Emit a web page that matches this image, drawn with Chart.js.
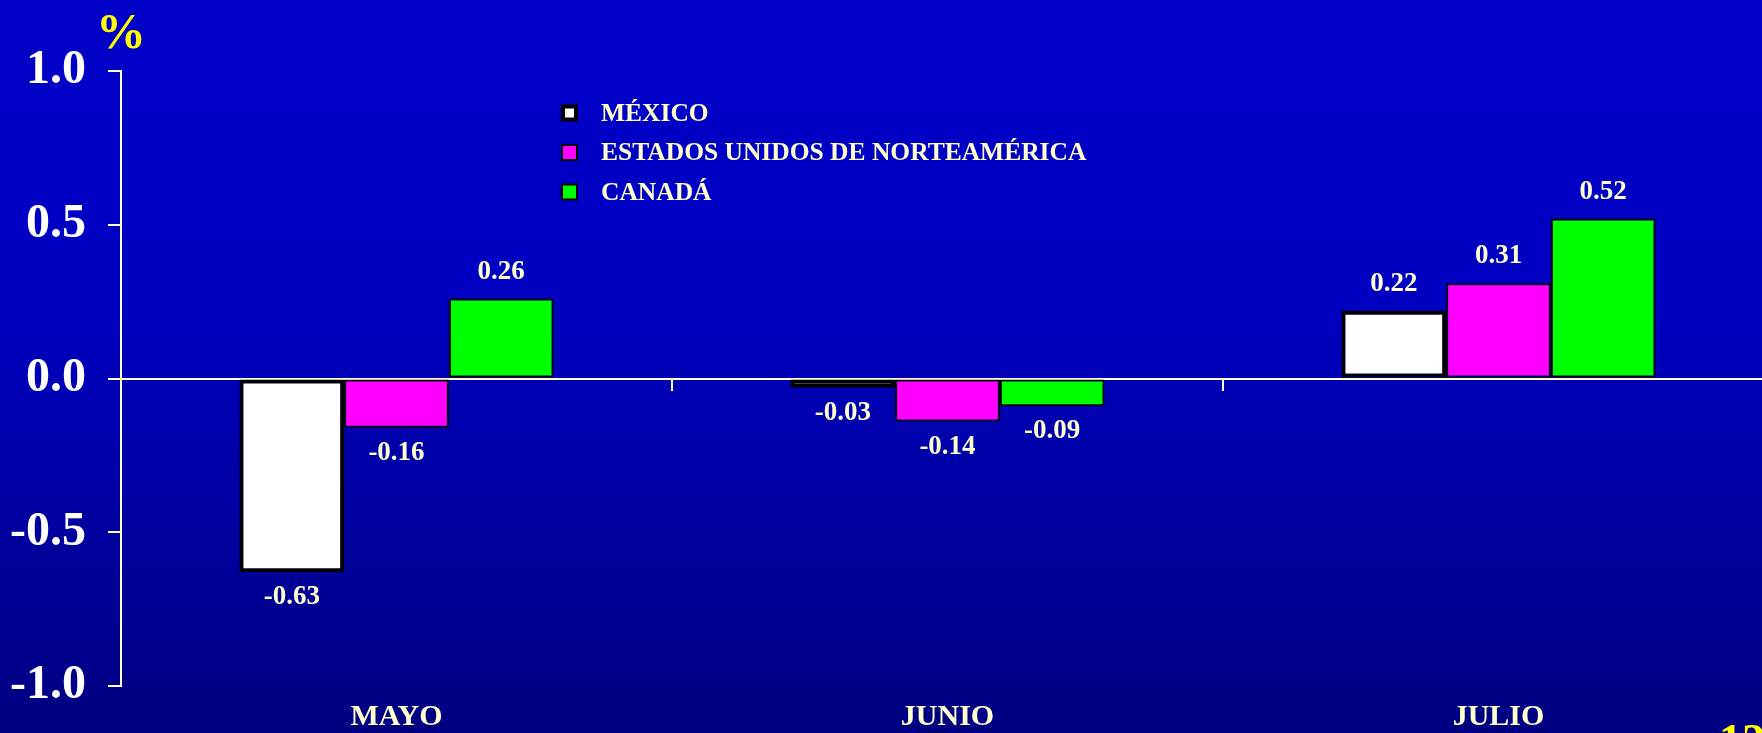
<!DOCTYPE html>
<html lang="es">
<head>
<meta charset="UTF-8">
<title>Variación mensual</title>
<script src="https://cdn.jsdelivr.net/npm/chart.js"></script>
<style>
  html, body { margin: 0; padding: 0; width: 1762px; height: 733px; overflow: hidden; }
  body {
    position: relative;
    background: linear-gradient(to bottom, #0000c8 0%, #0000c2 40%, #000080 100%);
    font-family: "Liberation Serif", "Times New Roman", serif;
  }
  #wrap { position: absolute; left: 0; top: 0; width: 1774px; height: 733px; }
  .yellow { position: absolute; color: #ffff00; font-weight: bold; line-height: 1; }
  #pct { left: 96px; top: 6px; font-size: 50px; }
  #page { left: 1719px; top: 718px; font-size: 46px; }
</style>
</head>
<body>
<div id="wrap"><canvas id="chart" width="1774" height="733"></canvas></div>
<div id="pct" class="yellow">%</div>
<div id="page" class="yellow">12</div>

<script>
// data
const categories = ['MAYO', 'JUNIO', 'JULIO'];
const seriesNames = ['MÉXICO', 'ESTADOS UNIDOS DE NORTEAMÉRICA', 'CANADÁ'];
const mexico = [-0.63, -0.03, 0.22];
const eua = [-0.16, -0.14, 0.31];
const canada = [0.26, -0.09, 0.52];
const yTicks = [-1, -0.5, 0, 0.5, 1];

const CREAM = '#ffffcc';
const FONT = '"Liberation Serif", "Times New Roman", serif';

// value labels above / below each bar
const valueLabels = {
    id: 'valueLabels',
    afterDatasetsDraw(chart) {
        const ctx = chart.ctx;
        ctx.save();
        ctx.font = 'bold 27px ' + FONT;
        ctx.fillStyle = CREAM;
        ctx.textAlign = 'center';
        ctx.textBaseline = 'middle';
        chart.data.datasets.forEach((ds, i) => {
            chart.getDatasetMeta(i).data.forEach((bar, j) => {
                const v = ds.data[j];
                const y = v >= 0 ? bar.y - 27 : bar.y + 25;
                ctx.fillText(v.toFixed(2), bar.x, y);
            });
        });
        ctx.restore();
    }
};

// legend drawn inside the plot, like the original slide
const boxLegend = {
    id: 'boxLegend',
    afterDraw(chart) {
        const ctx = chart.ctx;
        const x = 561, y0 = 113, gap = 39.5, size = 17;
        ctx.save();
        ctx.font = 'bold 25.5px ' + FONT;
        ctx.textBaseline = 'middle';
        ctx.textAlign = 'left';
        chart.data.datasets.forEach((ds, i) => {
            const y = y0 + i * gap;
            const bw = ds.borderWidth;
            ctx.fillStyle = '#000';
            ctx.fillRect(x, y - size / 2, size, size);
            ctx.fillStyle = ds.backgroundColor;
            ctx.fillRect(x + bw, y - size / 2 + bw, size - 2 * bw, size - 2 * bw);
            ctx.fillStyle = CREAM;
            ctx.fillText(ds.label, x + 40, y + 1);
        });
        ctx.restore();
    }
};

new Chart(document.getElementById('chart'), {
    type: 'bar',
    data: {
        labels: categories,
        datasets: [
            { label: seriesNames[0], data: mexico, backgroundColor: '#ffffff', borderColor: '#000', borderWidth: 4 },
            { label: seriesNames[1], data: eua, backgroundColor: '#ff00ff', borderColor: '#000', borderWidth: 2 },
            { label: seriesNames[2], data: canada, backgroundColor: '#00ff00', borderColor: '#000', borderWidth: 2 }
        ]
    },
    options: {
        responsive: false,
        animation: false,
        layout: { padding: { top: 71, right: 0, left: 0, bottom: 0 } },
        datasets: {
            bar: { categoryPercentage: 0.57, barPercentage: 1.0, borderSkipped: false }
        },
        plugins: {
            legend: { display: false },
            tooltip: { enabled: false }
        },
        scales: {
            x: {
                type: 'category',
                position: { y: 0 },
                offset: true,
                grid: { offset: true, drawOnChartArea: false, tickLength: 11, color: CREAM, lineWidth: 2 },
                border: { display: true, color: CREAM, width: 2 },
                ticks: { display: false }
            },
            x2: {
                type: 'category',
                position: 'bottom',
                offset: true,
                labels: categories,
                grid: { display: false, drawTicks: false },
                border: { display: false },
                ticks: { color: CREAM, font: { family: FONT, size: 30, weight: 'bold' }, padding: 13, maxRotation: 0 },
                afterFit(s) { s.height = 47; }
            },
            y: {
                position: 'left',
                min: -1,
                max: 1,
                afterBuildTicks(s) { s.ticks = yTicks.map(v => ({ value: v })); },
                afterFit(s) { s.width = 121; s.paddingTop = 0; s.paddingBottom = 0; },
                ticks: {
                    color: '#ffffff',
                    font: { family: FONT, size: 48, weight: 'bold' },
                    padding: 22,
                    callback: v => v.toFixed(1)
                },
                grid: { drawOnChartArea: false, tickLength: 13, color: CREAM, lineWidth: 2 },
                border: { color: CREAM, width: 2 }
            }
        }
    },
    plugins: [valueLabels, boxLegend]
});
</script>
</body>
</html>
